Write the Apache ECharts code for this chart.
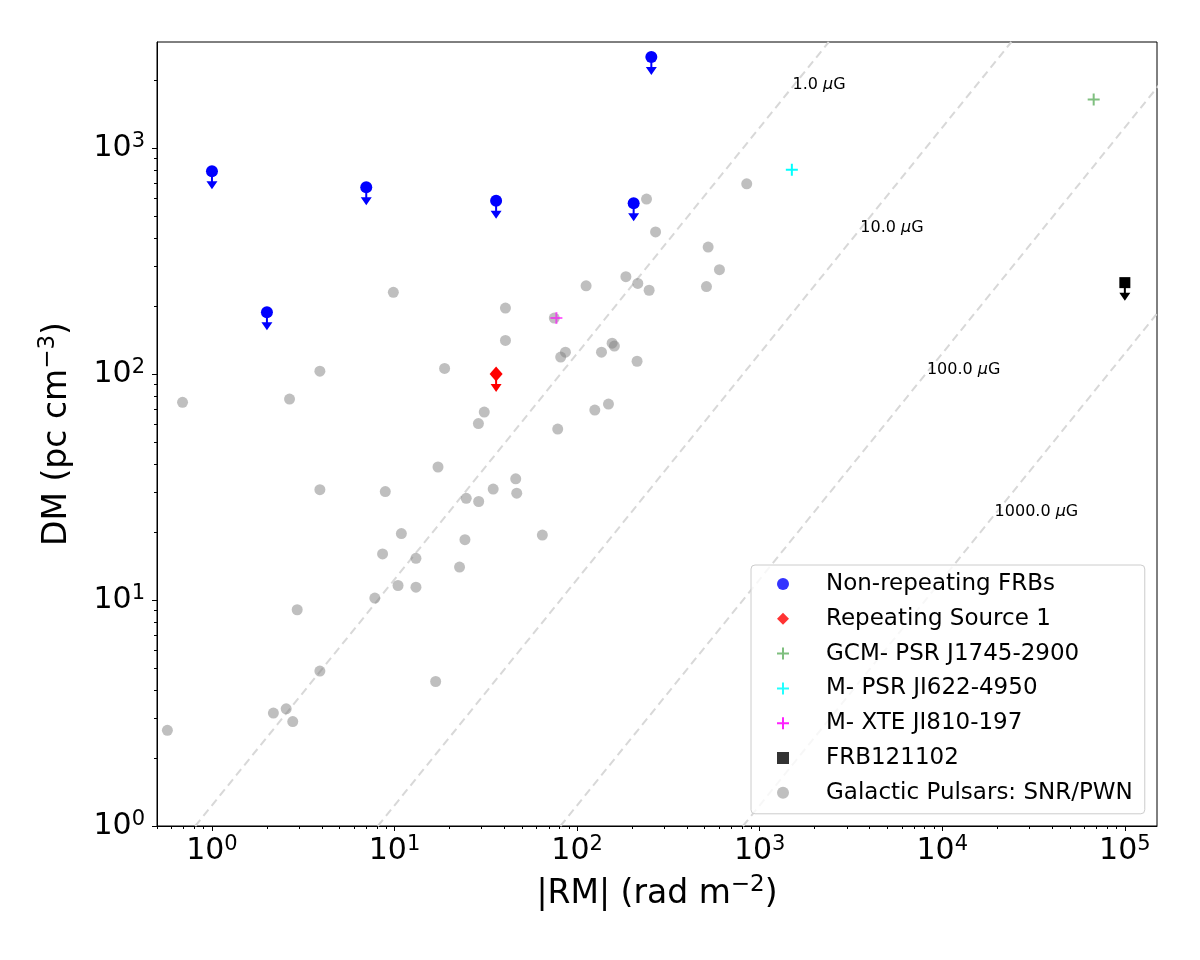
<!DOCTYPE html>
<html>
<head>
<meta charset="utf-8">
<title>DM vs RM</title>
<script src="https://cdn.jsdelivr.net/npm/echarts@6/dist/echarts.min.js"></script>
<style>
  html, body { margin: 0; padding: 0; background: #fff; }
  #chart { width: 1200px; height: 960px; }
</style>
</head>
<body>
<div id="chart"></div>
<script>
// ---- data ----
var pulsarRM = [3.9, 18.8, 0.69, 2.66, 17.3, 3.9, 8.9, 10.9, 8.6, 13.1, 10.45, 13.1, 7.8, 2.93, 3.9, 16.8, 2.17, 2.55, 2.77, 0.57,
                849, 240, 269, 522, 602, 185, 215, 248, 511, 112, 9.85, 40.5, 75, 40.5, 86.3, 81.3, 136, 155.5, 160, 213,
                31.0, 28.8, 125, 148.5, 78.3, 46.1, 34.7, 46.7, 24.7, 28.9, 24.3, 64.5, 22.7];
var pulsarDM = [103, 106, 75, 77.5, 38.8, 30.8, 30.2, 19.7, 16.0, 15.3, 11.6, 11.4, 10.2, 9.06, 4.85, 4.36, 3.16, 3.30, 2.90, 2.65,
                695, 595, 426, 365, 290, 270, 252, 235, 244, 246, 230, 196, 177, 141, 125, 119, 125, 137, 133, 114,
                67.9, 60.4, 69.3, 73.7, 57.1, 34.4, 31.0, 29.7, 28.2, 27.3, 18.5, 19.4, 14.0];

var frbRM = [1, 2, 7, 36, 204, 255];
var frbDM = [790, 188, 672, 585, 571, 2530];

var repeaterRM = [36];
var repeaterDM = [100];

var gcmRM = [67500];
var gcmDM = [1640];

var psrJ1622RM = [1500];
var psrJ1622DM = [802];

var xteRM = [77];
var xteDM = [177];

var frb121102RM = [1e5];
var frb121102DM = [254];

// lines of constant field, DM = RM / (0.81 B)
var bFields = [1, 10, 100, 1000];
var bLabels = ['1.0', '10.0', '100.0', '1000.0'];
var bLabelRM = [1513, 3556, 8240, 19350];
var bLabelDM = [1906, 443, 104.5, 24.5];

var xMajorTicks = [1, 10, 100, 1000, 10000, 100000];
var yMajorTicks = [1, 10, 100, 1000];

var legendNames = ['Non-repeating FRBs', 'Repeating Source 1', 'GCM- PSR J1745-2900',
                   'M- PSR JI622-4950', 'M- XTE JI810-197', 'FRB121102', 'Galactic Pulsars: SNR/PWN'];

// ---- helpers ----
function pairs(xs, ys) {
    var out = [];
    for (var i = 0; i < xs.length; i++) out.push([xs[i], ys[i]]);
    return out;
}

function minorTicks(lo, hi) {
    var out = [];
    for (var e = -1; e <= 5; e++) {
        for (var m = 2; m <= 9; m++) {
            var v = m * Math.pow(10, e);
            if (v >= lo && v <= hi) out.push(v);
        }
    }
    return out;
}

var FONT = 'DejaVu Sans';
var PLUS = 'path://M0,5 L12,5 L12,7 L0,7 Z M5,0 L7,0 L7,12 L5,12 Z';
var ARROW = 'path://M4.5,0 L6.5,0 L6.5,10 L11,10 L5.5,18 L0,10 L4.5,10 Z';

function powLabel(v) {
    var e = Math.round(Math.log(v) / Math.LN10);
    return '{b|10}{s|' + e + '}';
}

var tickRich = {
    b: { fontSize: 30, fontFamily: FONT, color: '#000', lineHeight: 34 },
    s: { fontSize: 21, fontFamily: FONT, color: '#000', lineHeight: 21, verticalAlign: 'top' }
};
var nameRich = {
    b: { fontSize: 33, fontFamily: FONT, color: '#000', lineHeight: 40 },
    s: { fontSize: 23, fontFamily: FONT, color: '#000', lineHeight: 23, verticalAlign: 'top' }
};

var xMin = 0.5, xMax = 1.5e5, yMin = 1, yMax = 2950;

var dom = document.getElementById('chart');
var myChart = echarts.init(dom);

var series = [];

// constant-B dashed lines
bFields.forEach(function (b) {
    series.push({
        name: 'B' + b,
        type: 'line',
        data: [[0.81 * b * yMin, yMin], [0.81 * b * yMax, yMax]],
        symbol: 'none',
        silent: true,
        lineStyle: { color: '#d8d8d8', width: 2, type: [8, 5] },
        z: 1
    });
});

series.push({
    name: 'Blabels',
    type: 'scatter',
    data: bLabelRM.map(function (x, i) { return [x, bLabelDM[i], bLabels[i]]; }),
    symbolSize: 0,
    silent: true,
    itemStyle: { opacity: 1 },
    label: {
        show: true,
        position: 'right',
        distance: 0,
        formatter: function (p) { return '{t|' + p.data[2] + ' }{i|μ}{t|G}'; },
        rich: {
            t: { fontSize: 16, fontFamily: FONT, color: '#000' },
            i: { fontSize: 16, fontFamily: FONT, color: '#000', fontStyle: 'italic' }
        }
    },
    z: 2
});

series.push({
    name: 'Galactic Pulsars: SNR/PWN',
    type: 'scatter',
    data: pairs(pulsarRM, pulsarDM),
    symbol: 'circle',
    symbolSize: 11,
    itemStyle: { color: '#808080', opacity: 0.5 },
    z: 3
});

// upper-limit arrows
series.push({
    name: 'frbArrow', type: 'scatter', data: pairs(frbRM, frbDM),
    symbol: ARROW, symbolSize: [11, 18], symbolOffset: [0, 9],
    itemStyle: { color: '#0000ff', opacity: 1 }, silent: true, z: 4
});
series.push({
    name: 'repArrow', type: 'scatter', data: pairs(repeaterRM, repeaterDM),
    symbol: ARROW, symbolSize: [11, 18], symbolOffset: [0, 9],
    itemStyle: { color: '#ff0000', opacity: 1 }, silent: true, z: 4
});
series.push({
    name: 'frb121102Arrow', type: 'scatter', data: pairs(frb121102RM, frb121102DM),
    symbol: ARROW, symbolSize: [11, 18], symbolOffset: [0, 9],
    itemStyle: { color: '#000000', opacity: 1 }, silent: true, z: 4
});

series.push({
    name: 'Non-repeating FRBs', type: 'scatter', data: pairs(frbRM, frbDM),
    symbol: 'circle', symbolSize: 12, itemStyle: { color: '#0000ff', opacity: 1 }, z: 5
});
series.push({
    name: 'Repeating Source 1', type: 'scatter', data: pairs(repeaterRM, repeaterDM),
    symbol: 'diamond', symbolSize: [13, 15], itemStyle: { color: '#ff0000', opacity: 1 }, z: 5
});
series.push({
    name: 'GCM- PSR J1745-2900', type: 'scatter', data: pairs(gcmRM, gcmDM),
    symbol: PLUS, symbolSize: 12, itemStyle: { color: '#008000', opacity: 0.5 }, z: 5
});
series.push({
    name: 'M- PSR JI622-4950', type: 'scatter', data: pairs(psrJ1622RM, psrJ1622DM),
    symbol: PLUS, symbolSize: 12, itemStyle: { color: '#00ffff', opacity: 1 }, z: 5
});
series.push({
    name: 'M- XTE JI810-197', type: 'scatter', data: pairs(xteRM, xteDM),
    symbol: PLUS, symbolSize: 12, itemStyle: { color: '#ff00ff', opacity: 0.6 }, z: 5
});
series.push({
    name: 'FRB121102', type: 'scatter', data: pairs(frb121102RM, frb121102DM),
    symbol: 'rect', symbolSize: 11, itemStyle: { color: '#000000', opacity: 1 }, z: 5
});

var legendColors = ['#3333ff', '#ff3333', '#7fbf7f', '#22ffff', '#ff22ff', '#333333', '#bfbfbf'];
var legendIcons = ['circle', 'diamond', PLUS, PLUS, PLUS, 'rect', 'circle'];

var option = {
    animation: false,
    backgroundColor: '#fff',
    grid: {
        left: 157, top: 42, right: 43, bottom: 134,
        show: true, borderColor: '#000', borderWidth: 1, backgroundColor: 'transparent'
    },
    legend: {
        orient: 'vertical',
        left: 751,
        top: 565,
        padding: [7, 12, 9, 26],
        itemWidth: 12,
        itemHeight: 12,
        itemGap: 10.8,
        borderColor: '#cccccc',
        borderWidth: 1,
        borderRadius: 4,
        backgroundColor: 'rgba(255,255,255,0.8)',
        textStyle: { fontSize: 23, fontFamily: FONT, color: '#000', lineHeight: 24, padding: [0, 0, 0, 32] },
        data: legendNames.map(function (n, i) {
            return { name: n, icon: legendIcons[i], itemStyle: { color: legendColors[i], opacity: 1 } };
        })
    },
    xAxis: [
        {
            type: 'log', logBase: 10, min: xMin, max: xMax, position: 'bottom',
            axisLine: { show: true, lineStyle: { color: '#000', width: 1 } },
            axisTick: { show: true, length: 5, customValues: xMajorTicks, lineStyle: { color: '#000', width: 1 } },
            axisLabel: { show: true, margin: 8, customValues: xMajorTicks, formatter: powLabel, rich: tickRich },
            splitLine: { show: false },
            minorTick: { show: false },
            name: '{b||RM| (rad m}{s|−2}{b|)}',
            nameLocation: 'middle',
            nameGap: 48,
            nameTextStyle: { rich: nameRich }
        },
        {
            type: 'log', logBase: 10, min: xMin, max: xMax, position: 'bottom', offset: 0,
            axisLine: { show: false },
            axisTick: { show: true, length: 3, customValues: minorTicks(xMin, xMax), lineStyle: { color: '#000', width: 1 } },
            axisLabel: { show: false },
            splitLine: { show: false }
        }
    ],
    yAxis: [
        {
            type: 'log', logBase: 10, min: yMin, max: yMax, position: 'left',
            axisLine: { show: true, lineStyle: { color: '#000', width: 1 } },
            axisTick: { show: true, length: 5, customValues: yMajorTicks, lineStyle: { color: '#000', width: 1 } },
            axisLabel: { show: true, margin: 12, customValues: yMajorTicks, formatter: powLabel, rich: tickRich },
            splitLine: { show: false },
            name: '{b|DM (pc cm}{s|−3}{b|)}',
            nameLocation: 'middle',
            nameGap: 80,
            nameRotate: 90,
            nameTextStyle: { rich: nameRich }
        },
        {
            type: 'log', logBase: 10, min: yMin, max: yMax, position: 'left', offset: 0,
            axisLine: { show: false },
            axisTick: { show: true, length: 3, customValues: minorTicks(yMin, yMax), lineStyle: { color: '#000', width: 1 } },
            axisLabel: { show: false },
            splitLine: { show: false }
        }
    ],
    series: series
};

if (option && typeof option === 'object') {
    myChart.setOption(option);
}
</script>
</body>
</html>
